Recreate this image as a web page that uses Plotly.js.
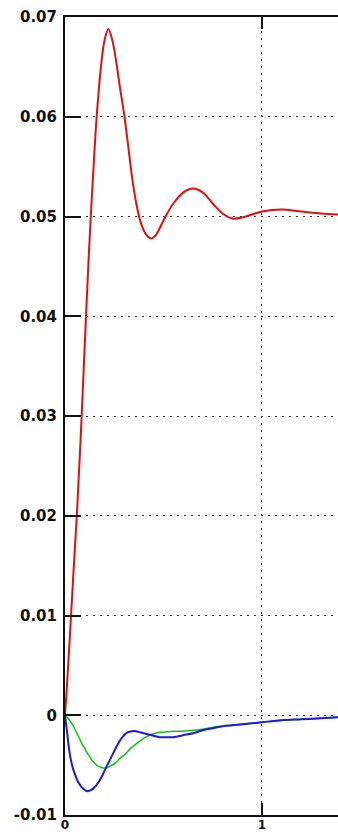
<!DOCTYPE html>
<html>
<head>
<meta charset="utf-8">
<script src="https://cdn.plot.ly/plotly-3.0.1.min.js"></script>
<style>
html,body{margin:0;padding:0;background:#fff;}
#chart{width:338px;height:834px;}
</style>
</head>
<body>
<div id="chart"></div>
<script>
var time = [0,0.01,0.02,0.03,0.04,0.05,0.06,0.07,0.08,0.09,0.10,0.11,0.12,0.13,0.14,0.15,0.16,
  0.18,0.20,0.22,0.24,0.26,0.28,0.30,0.32,0.34,0.36,0.38,0.40,0.42,0.44,0.46,0.48,0.50,
  0.55,0.60,0.65,0.70,0.75,0.80,0.85,0.90,0.95,1.0,1.1,1.2,1.3,1.39];
var redSeries = [0,0.003,0.0063,0.0098,0.0133,0.0167,0.020,0.024,0.028,0.0325,0.037,0.0415,0.0458,0.0497,0.0533,0.0567,0.0598,
  0.0645,0.0676,0.0688,0.0677,0.0655,0.0628,0.0603,0.0572,0.0540,0.0515,0.0497,0.0486,0.0480,0.0478,0.0481,0.0488,0.0496,
  0.0513,0.0524,0.0528,0.0524,0.0513,0.0503,0.0498,0.0499,0.0502,0.0505,0.0507,0.0505,0.0503,0.0502];
var blueSeries = [0,-0.0016,-0.0033,-0.0045,-0.0053,-0.0059,-0.0064,-0.0068,-0.0071,-0.0073,-0.0075,-0.0076,-0.0076,-0.0075,-0.0074,-0.0072,-0.0070,
  -0.0064,-0.0056,-0.0048,-0.0040,-0.0032,-0.0025,-0.0020,-0.0017,-0.0016,-0.0016,-0.0017,-0.0018,-0.0019,-0.0020,-0.0021,-0.0022,-0.0022,
  -0.0022,-0.0020,-0.0018,-0.0015,-0.0013,-0.0011,-0.0010,-0.0009,-0.0008,-0.0007,-0.0005,-0.0004,-0.0003,-0.0002];
var greenSeries = [0,-0.0002,-0.0004,-0.0007,-0.0010,-0.0014,-0.0018,-0.0022,-0.0026,-0.0030,-0.0033,-0.0037,-0.0040,-0.0043,-0.0046,-0.0048,-0.0050,
  -0.0052,-0.0053,-0.0052,-0.0050,-0.0047,-0.0043,-0.0040,-0.0036,-0.0032,-0.0029,-0.0026,-0.0023,-0.0021,-0.0019,-0.0018,-0.0017,-0.0017,
  -0.0016,-0.0016,-0.0015,-0.0014,-0.0012,-0.0011,-0.0010,-0.0009,-0.0008,-0.0007,-0.0005,-0.0004,-0.0003,-0.0002];

var yTickVals = [-0.01,0,0.01,0.02,0.03,0.04,0.05,0.06,0.07];
var yTickText = ["-0.01","0","0.01","0.02","0.03","0.04","0.05","0.06","0.07"];
var xTickVals = [0,1];
var xTickText = ["0","1"];

var traces = [
  {x: time, y: greenSeries, mode:'lines', line:{color:'#12c412', width:1.5, shape:'spline'}, hoverinfo:'skip'},
  {x: time, y: blueSeries, mode:'lines', line:{color:'#1a1ae0', width:2, shape:'spline'}, hoverinfo:'skip'},
  {x: time, y: redSeries, mode:'lines', line:{color:'#e01010', width:2, shape:'spline'}, hoverinfo:'skip'}
];

var yFont = {family:'"DejaVu Sans", Arial, sans-serif', size:15, color:'#111', weight:'bold'};
var xFont = {family:'"DejaVu Sans", Arial, sans-serif', size:12, color:'#111', weight:'bold'};

var layout = {
  width:338, height:834,
  margin:{l:65, r:0, t:17, b:19},
  paper_bgcolor:'#fff', plot_bgcolor:'#fff',
  showlegend:false,
  xaxis:{
    range:[0,1.386], tickvals:xTickVals, ticktext:xTickText,
    ticks:'inside', ticklen:12, tickwidth:2, tickcolor:'#111',
    showline:true, linecolor:'#111', linewidth:2, mirror:'ticks',
    showgrid:true, gridcolor:'#333', griddash:'2px,5px', gridwidth:1,
    zeroline:false, tickfont:xFont, ticklabelstandoff:-2
  },
  yaxis:{
    range:[-0.01,0.07], tickvals:yTickVals, ticktext:yTickText,
    ticks:'inside', ticklen:16, tickwidth:2, tickcolor:'#111',
    showline:true, linecolor:'#111', linewidth:2, mirror:false,
    showgrid:true, gridcolor:'#333', griddash:'2px,5px', gridwidth:1,
    zeroline:false, tickfont:yFont, ticklabelstandoff:3
  }
};

Plotly.newPlot('chart', traces, layout, {staticPlot:true, displayModeBar:false});
</script>
</body>
</html>
